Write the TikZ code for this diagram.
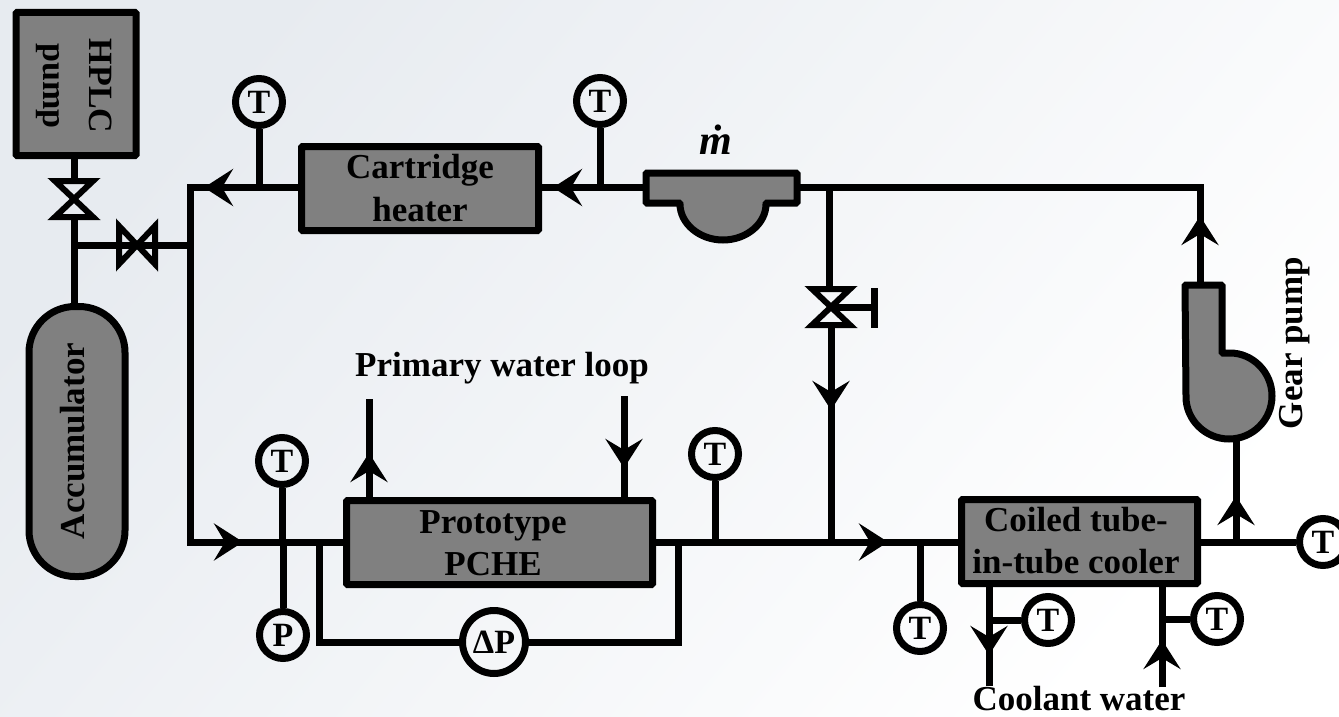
\documentclass[tikz,border=0pt]{standalone}
\usepackage{fontspec}
\setmainfont{Liberation Serif}
\usetikzlibrary{arrows.meta}
\definecolor{unitgray}{HTML}{808080}
\definecolor{bgblue}{HTML}{E7EBF0}

\begin{document}
\begin{tikzpicture}[
    x=1pt, y=-1pt,
    pipe/.style={line width=7pt},
    arrow/.style={line width=7pt, -{Stealth[length=29pt, width=37pt, inset=11pt]}},
    block/.style={draw, line width=7pt, fill=unitgray, align=center, inner sep=0pt, rounded corners=1pt, font=\fontsize{35}{43}\selectfont\bfseries},
    gauge/.style={draw, circle, line width=7pt, minimum size=47pt, inner sep=0pt, font=\fontsize{34}{34}\selectfont\bfseries},
    label/.style={align=center, inner sep=0pt, font=\fontsize{35}{42}\selectfont\bfseries},
    valve/.pic={
        \draw[line width=6pt] (-19,-18) -- (19,-18) -- (-19,18) -- (19,18) -- cycle;
        \coordinate (-a) at (0,-18);
        \coordinate (-b) at (0,18);
    },
]
    \useasboundingbox (0,0) rectangle (1339,717);
    \shade[shading=axis, top color=bgblue, middle color=white, bottom color=white, shading angle=50] (0,0) rectangle (1339,717);

    \node[block, minimum width=120pt, minimum height=143pt] (hplc) at (76,84) {};
    \node[block, rotate=90, minimum width=270pt, minimum height=96pt, rounded corners=46pt] (accum) at (77,441.5) {};
    \node[block, minimum width=237pt, minimum height=84pt] (heater) at (420,188.5) {Cartridge\\heater};
    \node[block, minimum width=306pt, minimum height=84pt] (pche) at (499.5,542.5) {};
    \node[block, minimum width=236pt, minimum height=84pt] (cooler) at (1079.5,541.5) {};

    \node[label, rotate=-90, font=\fontsize{34}{46}\selectfont\bfseries] (hplctext) at (74,86) {HPLC\\pump};
    \node[label, rotate=90] (accumtext) at (73,441) {Accumulator};
    \node[label] (pchetext) at (493,543) {Prototype\\PCHE};
    \node[label] (coolertext) at (1076,541) {Coiled tube-\\in-tube cooler};

    \node[gauge] (theater) at (259,102) {T};
    \node[gauge] (tmeter) at (600,101) {T};
    \node[gauge] (tin) at (282,461) {T};
    \node[gauge] (pin) at (283,635) {P};
    \node[gauge, minimum size=63pt] (dp) at (494,642) {ΔP};
    \node[gauge] (tout) at (715,454) {T};
    \node[gauge] (tcool) at (920,628) {T};
    \node[gauge] (tdrain) at (1048,620) {T};
    \node[gauge] (tfeed) at (1217,619) {T};
    \node[gauge] (tpump) at (1323,542) {T};

    \node[label, font=\fontsize{42}{42}\selectfont\bfseries] (mdot) at (716,140) {\textit{\.m}};
    \node[label] (primary) at (502,368) {Primary water loop};
    \node[label] (coolant) at (1079,699) {Coolant water};
    \node[label, rotate=90] (gearlabel) at (1295,343) {Gear pump};

    \pic (hvalve) at (74,199) {valve};
    \pic[rotate=90] (avalve) at (137,245) {valve};
    \pic (bvalve) at (831,307) {valve};

    \draw[block] (646,173) -- (797,173) -- (797,203) -- (766,203) arc[start angle=0, end angle=180, x radius=43, y radius=37] -- (646,203) -- cycle;
    \draw[block] (1185,285) -- (1222,285) -- (1222,353) -- (1229,353) arc[start angle=-90, end angle=180, radius=43] -- cycle;
    \coordinate (meterin) at (646,187.5);
    \coordinate (meterout) at (797,187.5);
    \coordinate (pumptop) at (1200,285);
    \coordinate (pumpbot) at (1236,439);

    \coordinate (topleft) at (190,187.5);
    \coordinate (botleft) at (190,542);
    \coordinate (topright) at (1200,187.5);
    \coordinate (split) at (829,187.5);
    \coordinate (merge) at (829,542);
    \coordinate (vbranch) at (74,245);
    \coordinate (abranch) at (190,245);

    \draw[pipe] (hplc.south -| hvalve-a) -- (hvalve-a);
    \draw[pipe] (hvalve-b) -- (hvalve-b |- accum.east);
    \draw[pipe] (vbranch) -- (avalve-b);
    \draw[pipe] (avalve-a) -- (abranch);

    \draw[pipe, line join=miter] (topleft -| heater.west) -- (topleft) -- (botleft) -- (botleft -| pche.west);
    \coordinate (tipa) at (204,187.5);
    \coordinate (tipb) at (553,187.5);
    \coordinate (tipc) at (243,542);
    \draw[arrow] (topleft -| heater.west) -- (tipa);
    \draw[arrow] (botleft) -- (tipc);
    \draw[pipe] (meterin) -- (topleft -| heater.east);
    \draw[arrow] (meterin) -- (tipb);
    \draw[pipe] (theater) -- (theater |- topleft);
    \draw[pipe] (tmeter) -- (tmeter |- topleft);
    \draw[pipe, line join=miter] (meterout) -- (topright) -- (pumptop);
    \coordinate (tipd) at (1200,216);
    \draw[arrow] (pumptop) -- (tipd);
    \draw[pipe] (split) -- (bvalve-a -| split);
    \coordinate (tipe) at (831,410);
    \draw[pipe] (bvalve-b) -- (bvalve-b |- merge);
    \draw[arrow] (bvalve-b) -- (tipe);
    \coordinate (handle) at (874,307);
    \draw[pipe] (bvalve-a |- handle) -- (handle);
    \draw[pipe] (874,288) -- (874,328);

    \draw[pipe] (tin) -- (tin |- botleft);
    \draw[pipe] (pin) -- (pin |- botleft);
    \coordinate (bypassa) at (319,542);
    \coordinate (bypassb) at (678,542);
    \draw[pipe, line join=miter] (bypassa) -- (bypassa |- dp) -- (dp);
    \draw[pipe, line join=miter] (dp) -- (bypassb |- dp) -- (bypassb);

    \coordinate (pout) at (369,399);
    \coordinate (pin2) at (624,396);
    \coordinate (tipf) at (369,453);
    \coordinate (tipg) at (624,468);
    \draw[pipe] (pche.north -| pout) -- (pout);
    \draw[arrow] (pche.north -| pout) -- (tipf);
    \draw[pipe] (pin2) -- (pche.north -| pin2);
    \draw[arrow] (pin2) -- (tipg);

    \coordinate (tiph) at (888,542);
    \draw[pipe] (botleft -| pche.east) -- (botleft -| cooler.west);
    \draw[arrow] (botleft -| pche.east) -- (tiph);
    \draw[pipe] (tout) -- (tout |- merge);
    \draw[pipe] (tcool) -- (tcool |- merge);

    \coordinate (drainend) at (989,686);
    \coordinate (feedend) at (1162,687);
    \coordinate (tipi) at (989,655);
    \coordinate (tipj) at (1162,640);
    \draw[pipe] (cooler.south -| drainend) -- (drainend);
    \draw[arrow] (cooler.south -| drainend) -- (tipi);
    \draw[pipe] (feedend) -- (cooler.south -| feedend);
    \draw[arrow] (feedend) -- (tipj);
    \draw[pipe] (tdrain) -- (tdrain -| drainend);
    \draw[pipe] (tfeed) -- (tfeed -| feedend);

    \draw[pipe] (tpump) -- (cooler.east |- tpump);
    \coordinate (tipk) at (1236,496);
    \draw[pipe] (pumpbot |- tpump) -- (pumpbot);
    \draw[arrow] (pumpbot |- tpump) -- (tipk);
\end{tikzpicture}
\end{document}
